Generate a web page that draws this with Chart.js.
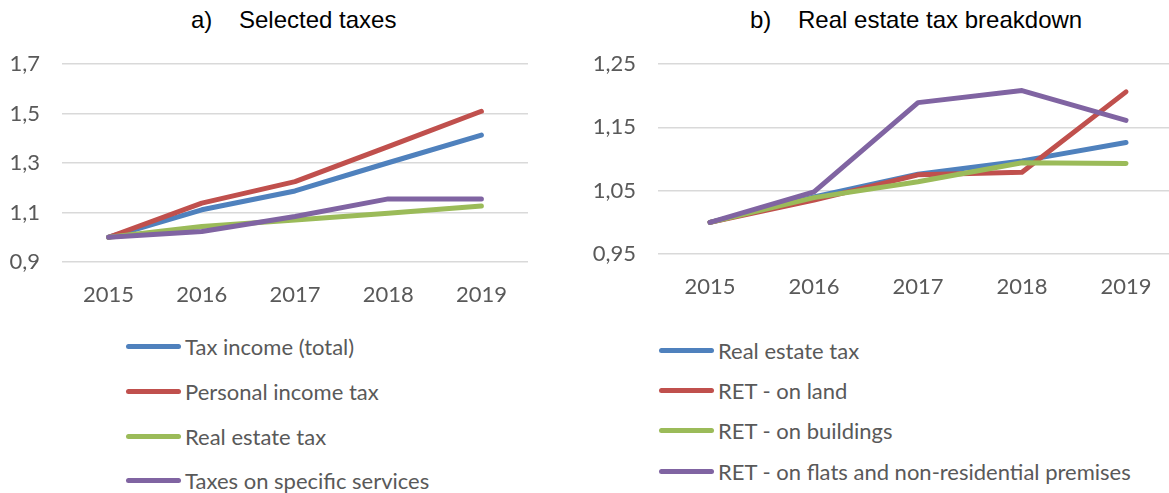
<!DOCTYPE html>
<html>
<head>
<meta charset="utf-8">
<script src="https://cdn.jsdelivr.net/npm/chart.js@4/dist/chart.umd.min.js"></script>
<style>
  body { margin: 0; width: 1169px; height: 493px; overflow: hidden; background: #fff; position: relative; }
  .title { position: absolute; top: 6px; font-family: "Liberation Sans", Arial, sans-serif; font-size: 24px; color: #000; white-space: pre; }
  .box { position: absolute; }
  .legend { position: absolute; font-family: Lato, sans-serif; font-size: 22px; color: #595959; }
  .legend .row { position: absolute; white-space: nowrap; display: flex; align-items: center; }
  .legend .mark { width: 55px; height: 5px; border-radius: 2.5px; margin-right: 4px; }
</style>
</head>
<body>
<div class="title" style="left:191px">a)    Selected taxes</div>
<div class="title" style="left:750px">b)    Real estate tax breakdown</div>
<div class="box" style="left:0;top:0;width:545px;height:320px"><canvas id="chartA"></canvas></div>
<div class="box" style="left:560px;top:0;width:630px;height:320px"><canvas id="chartB"></canvas></div>
<div class="legend" id="legendA" style="left:126px;top:0"></div>
<div class="legend" id="legendB" style="left:659px;top:0"></div>
<script>
// chart a) selected taxes, index 2015 = 1
const years = ['2015', '2016', '2017', '2018', '2019'];
const taxIncomeTotal = [1, 1.111, 1.187, 1.301, 1.413];
const personalIncomeTax = [1, 1.138, 1.225, 1.366, 1.509];
const realEstateTax = [1, 1.043, 1.070, 1.097, 1.126];
const specificServicesTax = [1, 1.023, 1.084, 1.155, 1.155];
const ticksA = [0.9, 1.1, 1.3, 1.5, 1.7];

// chart b) real estate tax breakdown
const retTotal = [1, 1.040, 1.076, 1.097, 1.126];
const retLand = [1, 1.035, 1.075, 1.079, 1.206];
const retBuildings = [1, 1.039, 1.064, 1.094, 1.093];
const retFlats = [1, 1.048, 1.189, 1.208, 1.161];
const ticksB = [0.95, 1.05, 1.15, 1.25];

const namesA = ['Tax income (total)', 'Personal income tax', 'Real estate tax', 'Taxes on specific services'];
const namesB = ['Real estate tax', 'RET - on land', 'RET - on buildings', 'RET - on flats and non-residential premises'];
const colors = ['#4f81bd', '#c0504d', '#9bbb59', '#8064a2'];

function makeSets(names, series) {
    return series.map((s, i) => ({
        label: names[i],
        data: s,
        borderColor: colors[i],
        backgroundColor: colors[i],
        borderWidth: 5,
        borderCapStyle: 'round',
        borderJoinStyle: 'round',
        pointRadius: 0,
        tension: 0,
        order: series.length - i
    }));
}

function makeChart(id, names, series, tickVals, min, max, digits, yWidth, padRight, plotBottom) {
    const canvas = document.getElementById(id);
    new Chart(canvas, {
        type: 'line',
        data: { labels: years, datasets: makeSets(names, series) },
        options: {
            responsive: true,
            maintainAspectRatio: false,
            animation: false,
            layout: { padding: { top: 64, right: padRight, left: 0, bottom: 0 } },
            plugins: { legend: { display: false }, tooltip: { enabled: false } },
            scales: {
                x: {
                    offset: true,
                    grid: { display: false },
                    border: { display: false },
                    ticks: { color: '#595959', font: { family: 'Lato', size: 22 }, padding: 12 },
                    afterFit: ax => { ax.height = 320 - plotBottom; }
                },
                y: {
                    min: min,
                    max: max,
                    grid: { color: '#d9d9d9', lineWidth: 1.5, drawTicks: false },
                    border: { display: false },
                    afterBuildTicks: ax => { ax.ticks = tickVals.map(v => ({ value: v })); },
                    ticks: {
                        color: '#595959', font: { family: 'Lato', size: 22 }, padding: 22,
                        callback: v => Number(v).toFixed(digits).replace('.', ',')
                    },
                    afterFit: ax => { ax.width = yWidth; }
                }
            }
        }
    });
}

function makeLegend(id, names, rowsY) {
    const el = document.getElementById(id);
    names.forEach((n, i) => {
        const row = document.createElement('div');
        row.className = 'row';
        row.style.top = (rowsY[i] - 14) + 'px';
        row.innerHTML = '<span class="mark" style="background:' + colors[i] + '"></span><span>' + n + '</span>';
        el.appendChild(row);
    });
}

makeChart('chartA', namesA, [taxIncomeTotal, personalIncomeTax, realEstateTax, specificServicesTax], ticksA, 0.9, 1.7, 1, 62, 17, 262);
makeChart('chartB', namesB, [retTotal, retLand, retBuildings, retFlats], ticksB, 0.95, 1.25, 2, 98, 12, 254);
makeLegend('legendA', namesA, [347, 392, 437, 481]);
makeLegend('legendB', namesB, [351, 391, 431, 472]);
</script>
</body>
</html>
